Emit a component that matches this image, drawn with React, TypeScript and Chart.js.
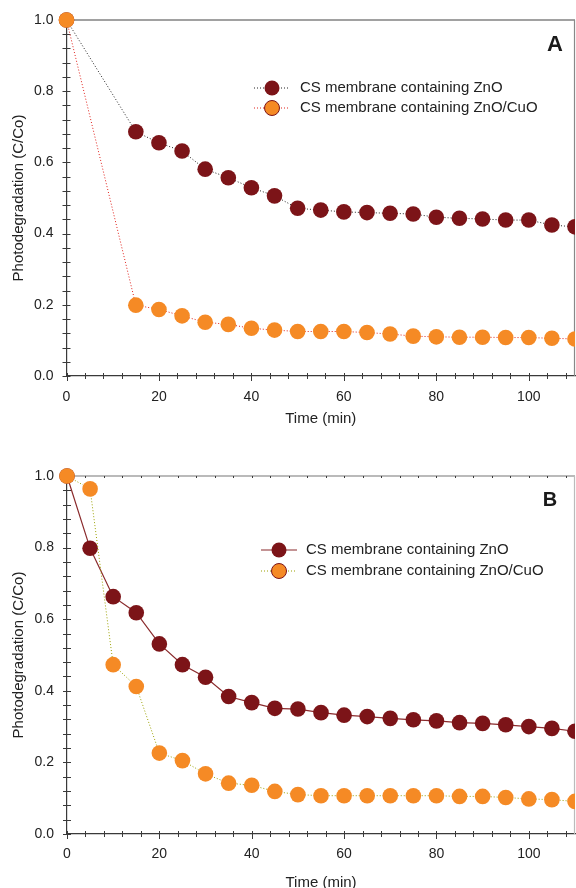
import React, { useEffect, useRef } from 'react';
import { Chart, registerables } from 'chart.js';

Chart.register(...registerables);

// ---------- data ----------
const timeA = [0, 15, 20, 25, 30, 35, 40, 45, 50, 55, 60, 65, 70, 75, 80, 85, 90, 95, 100, 105, 110];
const znoA = [1.0, 0.686, 0.655, 0.632, 0.581, 0.557, 0.529, 0.506, 0.471, 0.466, 0.461, 0.459, 0.457, 0.455, 0.446, 0.443, 0.441, 0.438, 0.438, 0.424, 0.419];
const znoCuoA = [1.0, 0.199, 0.187, 0.169, 0.151, 0.145, 0.134, 0.129, 0.125, 0.125, 0.125, 0.122, 0.118, 0.112, 0.110, 0.109, 0.109, 0.108, 0.108, 0.106, 0.104];

const timeB = [0, 5, 10, 15, 20, 25, 30, 35, 40, 45, 50, 55, 60, 65, 70, 75, 80, 85, 90, 95, 100, 105, 110];
const znoB = [1.0, 0.798, 0.663, 0.618, 0.531, 0.473, 0.438, 0.384, 0.367, 0.351, 0.349, 0.339, 0.332, 0.328, 0.323, 0.319, 0.316, 0.311, 0.309, 0.305, 0.300, 0.295, 0.287];
const znoCuoB = [1.0, 0.964, 0.473, 0.412, 0.226, 0.205, 0.168, 0.142, 0.136, 0.119, 0.110, 0.107, 0.107, 0.107, 0.107, 0.107, 0.107, 0.105, 0.105, 0.102, 0.098, 0.096, 0.091];

const seriesNames = ['CS membrane containing ZnO', 'CS membrane containing ZnO/CuO'];
const xTickLabels = [0, 20, 40, 60, 80, 100];
const yTickLabels = [0.0, 0.2, 0.4, 0.6, 0.8, 1.0];
const xMinorStep = 4;
const yMinorStep = 0.04;
const xTitle = 'Time (min)';
const yTitle = 'Photodegradation (C/Co)';

const FONT = '"Liberation Sans", Arial, sans-serif';
const TEXT = '#222';
const AXIS = '#3a3a3a';
const DARKRED = '#7c1418';
const ORANGE = '#f58a25';

// ---------- plugins ----------
const frameTicks = {
  id: 'frameTicks',
  beforeDatasetsDraw(chart: any, _a: any, o: any) {
    const { ctx, chartArea, scales } = chart;
    const { left, right, top, bottom } = chartArea;
    const xs = scales.x, ys = scales.y;
    ctx.save();
    ctx.lineWidth = 1.2;
    ctx.strokeStyle = o.topColor;
    ctx.beginPath(); ctx.moveTo(left, top); ctx.lineTo(right, top); ctx.stroke();
    ctx.strokeStyle = o.rightColor;
    ctx.beginPath(); ctx.moveTo(right - 0.5, top); ctx.lineTo(right - 0.5, bottom); ctx.stroke();
    ctx.strokeStyle = AXIS;
    ctx.lineWidth = 1;
    for (let i = 0; i * xMinorStep <= xs.max + 1e-9; i++) {
      const v = i * xMinorStep;
      const px = Math.round(xs.getPixelForValue(v)) + 0.5;
      const major = v % 20 === 0;
      ctx.beginPath();
      ctx.moveTo(px, bottom - 3);
      ctx.lineTo(px, bottom + (major ? 5 : 3));
      ctx.stroke();
      if (o.topTicks) {
        ctx.beginPath(); ctx.moveTo(px, top); ctx.lineTo(px, top + 2); ctx.stroke();
      }
    }
    for (let i = 0; i * yMinorStep <= ys.max + 1e-9; i++) {
      const v = i * yMinorStep;
      const py = Math.round(ys.getPixelForValue(v)) + 0.5;
      ctx.beginPath();
      ctx.moveTo(left - 4, py);
      ctx.lineTo(left + 4, py);
      ctx.stroke();
    }
    ctx.restore();
  },
};

const customLegend = {
  id: 'customLegend',
  afterDraw(chart: any, _a: any, o: any) {
    const { ctx } = chart;
    const dsets = chart.data.datasets;
    ctx.save();
    dsets.forEach((ds: any, i: number) => {
      const yy = o.y + i * o.gap;
      ctx.strokeStyle = ds.borderColor;
      ctx.lineWidth = ds.borderWidth;
      ctx.setLineDash(ds.borderDash || []);
      ctx.beginPath();
      ctx.moveTo(o.x - o.half, yy);
      ctx.lineTo(o.x + o.half, yy);
      ctx.stroke();
      ctx.setLineDash([]);
      ctx.beginPath();
      ctx.arc(o.x, yy, 7.5, 0, Math.PI * 2);
      ctx.fillStyle = ds.backgroundColor;
      ctx.fill();
      if (ds.legendBorder) {
        ctx.lineWidth = 1;
        ctx.strokeStyle = ds.legendBorder;
        ctx.stroke();
      }
      ctx.fillStyle = TEXT;
      ctx.font = `15px ${FONT}`;
      ctx.textBaseline = 'middle';
      ctx.textAlign = 'left';
      ctx.fillText(ds.label, o.textX, yy);
    });
    ctx.font = `bold ${o.letterSize}px ${FONT}`;
    ctx.fillStyle = '#1a1a1a';
    ctx.textAlign = 'center';
    ctx.textBaseline = 'middle';
    ctx.fillText(o.letter, o.letterX, o.letterY);
    ctx.restore();
  },
};

type PanelProps = {
  top: number;
  height: number;
  plotTop: number;
  plotBottom: number;
  yAxisWidth: number;
  times: number[];
  zno: number[];
  znoCuo: number[];
  znoLine: { color: string; dash: number[]; width: number };
  cuoLine: { color: string; dash: number[]; width: number };
  legend: any;
  frame: any;
  xLabelPad: number;
  xTitlePad: number;
};

function Panel(p: PanelProps) {
  const ref = useRef<HTMLCanvasElement>(null);
  useEffect(() => {
    if (!ref.current) return;
    const chart = new Chart(ref.current, {
      type: 'line',
      data: {
        datasets: [
          {
            label: seriesNames[0],
            data: p.times.map((t, i) => ({ x: t, y: p.zno[i] })),
            borderColor: p.znoLine.color,
            borderDash: p.znoLine.dash,
            borderWidth: p.znoLine.width,
            backgroundColor: DARKRED,
            pointBackgroundColor: DARKRED,
            pointBorderWidth: 0,
            pointRadius: 7.8,
            order: 1,
            clip: { left: 12, top: 12, right: 0, bottom: 0 },
          } as any,
          {
            label: seriesNames[1],
            data: p.times.map((t, i) => ({ x: t, y: p.znoCuo[i] })),
            borderColor: p.cuoLine.color,
            borderDash: p.cuoLine.dash,
            borderWidth: p.cuoLine.width,
            backgroundColor: ORANGE,
            pointBackgroundColor: ORANGE,
            pointBorderWidth: 0,
            pointRadius: 7.8,
            legendBorder: DARKRED,
            order: 0,
            clip: { left: 12, top: 12, right: 0, bottom: 0 },
          } as any,
        ],
      },
      options: {
        responsive: false,
        animation: false,
        events: [],
        layout: { autoPadding: false, padding: { top: p.plotTop, right: 1, left: 0, bottom: 0 } },
        plugins: {
          legend: { display: false },
          tooltip: { enabled: false },
          customLegend: p.legend,
          frameTicks: p.frame,
        } as any,
        scales: {
          x: {
            type: 'linear',
            min: 0,
            max: 110,
            afterFit: (s: any) => {
              s.height = p.height - p.plotBottom;
              s.paddingLeft = 0; s.paddingRight = 0; s.paddingTop = 0; s.paddingBottom = 0;
            },
            afterBuildTicks: (s: any) => { s.ticks = xTickLabels.map((v) => ({ value: v })); },
            grid: { display: true, drawOnChartArea: false, drawTicks: false },
            border: { display: true, color: AXIS, width: 1.2 },
            ticks: { padding: p.xLabelPad, color: TEXT, font: { family: FONT, size: 14 }, maxRotation: 0 },
            title: { display: true, text: xTitle, color: TEXT, font: { family: FONT, size: 15 }, padding: { top: 0, bottom: p.xTitlePad } },
          },
          y: {
            type: 'linear',
            min: 0,
            max: 1,
            afterFit: (s: any) => {
              s.width = p.yAxisWidth;
              s.paddingLeft = 0; s.paddingRight = 0; s.paddingTop = 0; s.paddingBottom = 0;
            },
            afterBuildTicks: (s: any) => { s.ticks = yTickLabels.map((v) => ({ value: v })); },
            grid: { display: true, drawOnChartArea: false, drawTicks: false },
            border: { display: true, color: AXIS, width: 1.2 },
            ticks: { padding: 13, color: TEXT, font: { family: FONT, size: 14 }, callback: (v: any) => Number(v).toFixed(1) },
            title: { display: true, text: yTitle, color: TEXT, font: { family: FONT, size: 15 }, padding: { top: 10, bottom: 0 } },
          },
        },
      },
      plugins: [frameTicks, customLegend],
    });
    return () => chart.destroy();
  }, []);
  return (
    <canvas
      ref={ref}
      width={576}
      height={p.height}
      style={{ position: 'absolute', left: 0, top: p.top, width: 576, height: p.height }}
    />
  );
}

export default function App() {
  return (
    <div style={{ position: 'absolute', left: 0, top: 0, width: 576, height: 888, background: '#fff', overflow: 'hidden' }}>
      <Panel
        top={0}
        height={432}
        plotTop={20}
        plotBottom={376}
        yAxisWidth={66.5}
        times={timeA}
        zno={znoA}
        znoCuo={znoCuoA}
        znoLine={{ color: '#222', dash: [1, 2], width: 1 }}
        cuoLine={{ color: '#e0201a', dash: [1, 2], width: 1 }}
        legend={{ x: 272, y: 88, gap: 20, half: 18, textX: 300, letter: 'A', letterX: 555, letterY: 45, letterSize: 22 }}
        frame={{ topColor: '#444', rightColor: '#888', topTicks: false }}
        xLabelPad={13}
        xTitlePad={4}
      />
      <Panel
        top={440}
        height={448}
        plotTop={36}
        plotBottom={394}
        yAxisWidth={67}
        times={timeB}
        zno={znoB}
        znoCuo={znoCuoB}
        znoLine={{ color: '#8a2a2c', dash: [], width: 1.2 }}
        cuoLine={{ color: '#9aa000', dash: [1, 2], width: 1 }}
        legend={{ x: 279, y: 110, gap: 21, half: 18, textX: 306, letter: 'B', letterX: 550, letterY: 60, letterSize: 20 }}
        frame={{ topColor: '#777', rightColor: '#bbb', topTicks: true }}
        xLabelPad={12}
        xTitlePad={-4}
      />
    </div>
  );
}
